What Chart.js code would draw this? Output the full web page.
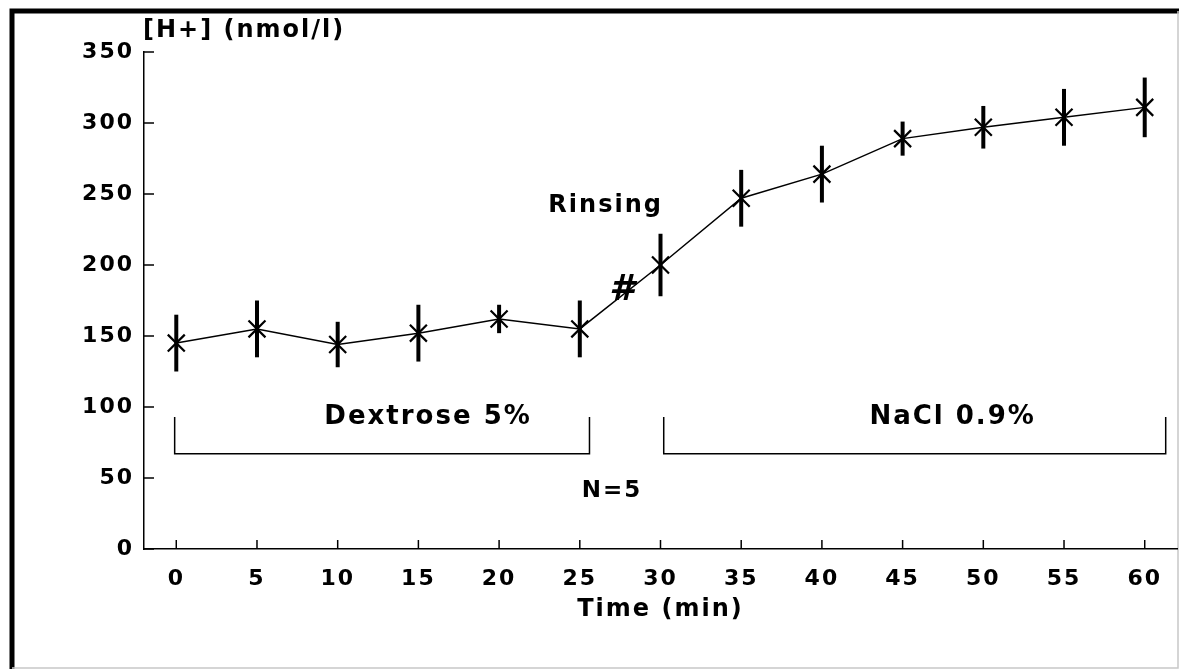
<!DOCTYPE html>
<html>
<head>
<meta charset="utf-8">
<script src="https://cdn.jsdelivr.net/npm/chart.js@4.4.1/dist/chart.umd.min.js"></script>
<style>
  html, body { margin:0; padding:0; background:#fff; }
  #wrap { width:1179px; height:669px; }
</style>
</head>
<body>
<div id="wrap"><canvas id="hChart" width="1179" height="669"></canvas></div>
<script>
// time points (min) and mean [H+] with error bar half-lengths
const times = [0, 5, 10, 15, 20, 25, 30, 35, 40, 45, 50, 55, 60]
const hPlus = [145, 155, 144, 152, 162, 155, 200, 247, 264, 289, 297, 304, 311]
const hPlusErr = [20, 20, 16, 20, 10, 20, 22, 20, 20, 12, 15, 20, 21]
const xTicks = [0, 5, 10, 15, 20, 25, 30, 35, 40, 45, 50, 55, 60]
const yTicks = [0, 50, 100, 150, 200, 250, 300, 350]

const FAMILY = '"DejaVu Sans", sans-serif'
const SPACING = '2px'
const font = (size, style) => (style || 'bold') + ' ' + size + 'px ' + FAMILY

const paper = {
  id: 'paper',
  beforeUpdate(chart) { chart.ctx.letterSpacing = SPACING },
  beforeDraw(chart) {
    const ctx = chart.ctx
    ctx.letterSpacing = SPACING
    ctx.save()
    ctx.fillStyle = '#fff'
    ctx.fillRect(0, 0, chart.width, chart.height)
    // outer frame of the figure
    ctx.strokeStyle = '#000'
    ctx.lineWidth = 5
    ctx.beginPath()
    ctx.moveTo(12, chart.height)
    ctx.lineTo(12, 11)
    ctx.lineTo(chart.width, 11)
    ctx.stroke()
    ctx.strokeStyle = '#c8c8c8'
    ctx.lineWidth = 1.5
    ctx.beginPath()
    ctx.moveTo(chart.width - 1, 11)
    ctx.lineTo(chart.width - 1, chart.height - 1)
    ctx.lineTo(12, chart.height - 1)
    ctx.stroke()
    ctx.restore()
  },
  afterDatasetsDraw(chart) {
    const ctx = chart.ctx
    const x = chart.scales.x, y = chart.scales.y
    const area = chart.chartArea
    ctx.save()
    ctx.strokeStyle = '#000'

    // error bars
    ctx.lineWidth = 4
    times.forEach((t, i) => {
      const px = x.getPixelForValue(t)
      ctx.beginPath()
      ctx.moveTo(px, y.getPixelForValue(hPlus[i] + hPlusErr[i]))
      ctx.lineTo(px, y.getPixelForValue(hPlus[i] - hPlusErr[i]))
      ctx.stroke()
    })

    // inward tick marks
    ctx.lineWidth = 1.5
    xTicks.forEach(v => {
      const px = x.getPixelForValue(v)
      ctx.beginPath(); ctx.moveTo(px, area.bottom); ctx.lineTo(px, area.bottom - 9); ctx.stroke()
    })
    yTicks.forEach(v => {
      const py = y.getPixelForValue(v)
      ctx.beginPath(); ctx.moveTo(area.left, py); ctx.lineTo(area.left + 10, py); ctx.stroke()
    })

    // treatment brackets
    const bracket = (x0, x1) => {
      ctx.beginPath()
      ctx.moveTo(x.getPixelForValue(x0), y.getPixelForValue(93))
      ctx.lineTo(x.getPixelForValue(x0), y.getPixelForValue(67))
      ctx.lineTo(x.getPixelForValue(x1), y.getPixelForValue(67))
      ctx.lineTo(x.getPixelForValue(x1), y.getPixelForValue(93))
      ctx.stroke()
    }
    bracket(-0.1, 25.6)
    bracket(30.2, 61.3)

    // labels
    ctx.fillStyle = '#000'
    ctx.textAlign = 'center'
    ctx.textBaseline = 'middle'
    ctx.font = font(26)
    ctx.fillText('Dextrose 5%', x.getPixelForValue(15.6), y.getPixelForValue(93))
    ctx.fillText('NaCl 0.9%', x.getPixelForValue(48.1), y.getPixelForValue(93))
    ctx.font = font(24)
    ctx.fillText('Rinsing', x.getPixelForValue(26.6), y.getPixelForValue(242))
    ctx.font = font(23)
    ctx.fillText('N=5', x.getPixelForValue(27), y.getPixelForValue(41))
    ctx.letterSpacing = '0px'
    ctx.font = font(36, 'italic bold')
    ctx.fillText('#', x.getPixelForValue(27.6), y.getPixelForValue(182))
    ctx.letterSpacing = SPACING
    ctx.textAlign = 'left'
    ctx.font = font(24)
    ctx.fillText('[H+] (nmol/l)', 143, 31)
    ctx.restore()
  }
}

const ctx = document.getElementById('hChart').getContext('2d')
const hChart = new Chart(ctx, {
  type: 'line',
  data: {
    datasets: [{
      data: times.map((t, i) => ({ x: t, y: hPlus[i] })),
      borderColor: '#000',
      borderWidth: 1.5,
      tension: 0,
      pointStyle: 'crossRot',
      pointRadius: 12,
      pointBorderWidth: 2.2,
      pointBorderColor: '#000',
      pointBackgroundColor: '#000'
    }]
  },
  options: {
    responsive: false,
    animation: false,
    devicePixelRatio: 1,
    layout: { autoPadding: false, padding: { top: 52, right: 2, left: 0, bottom: 0 } },
    plugins: { legend: { display: false }, tooltip: { enabled: false } },
    scales: {
      x: {
        type: 'linear', min: -2, max: 62,
        afterBuildTicks: s => { s.ticks = xTicks.map(v => ({ value: v })) },
        afterFit: s => { s.height = 120; s.paddingLeft = 0; s.paddingRight = 0 },
        grid: { display: true, drawOnChartArea: false, drawTicks: false },
        border: { color: '#000', width: 1.5 },
        ticks: { color: '#000', padding: 17, maxRotation: 0, font: { family: FAMILY, size: 22, weight: 'bold' } },
        title: { display: true, text: 'Time (min)', color: '#000', font: { family: FAMILY, size: 24, weight: 'bold' }, padding: { top: 0, bottom: 45 } }
      },
      y: {
        min: 0, max: 350,
        afterBuildTicks: s => { s.ticks = yTicks.map(v => ({ value: v })) },
        afterFit: s => { s.width = 144; s.paddingTop = 0; s.paddingBottom = 0 },
        grid: { display: true, drawOnChartArea: false, drawTicks: false },
        border: { color: '#000', width: 1.5 },
        ticks: { color: '#000', padding: 10, font: { family: FAMILY, size: 22, weight: 'bold' } }
      }
    }
  },
  plugins: [paper]
})
</script>
</body>
</html>
